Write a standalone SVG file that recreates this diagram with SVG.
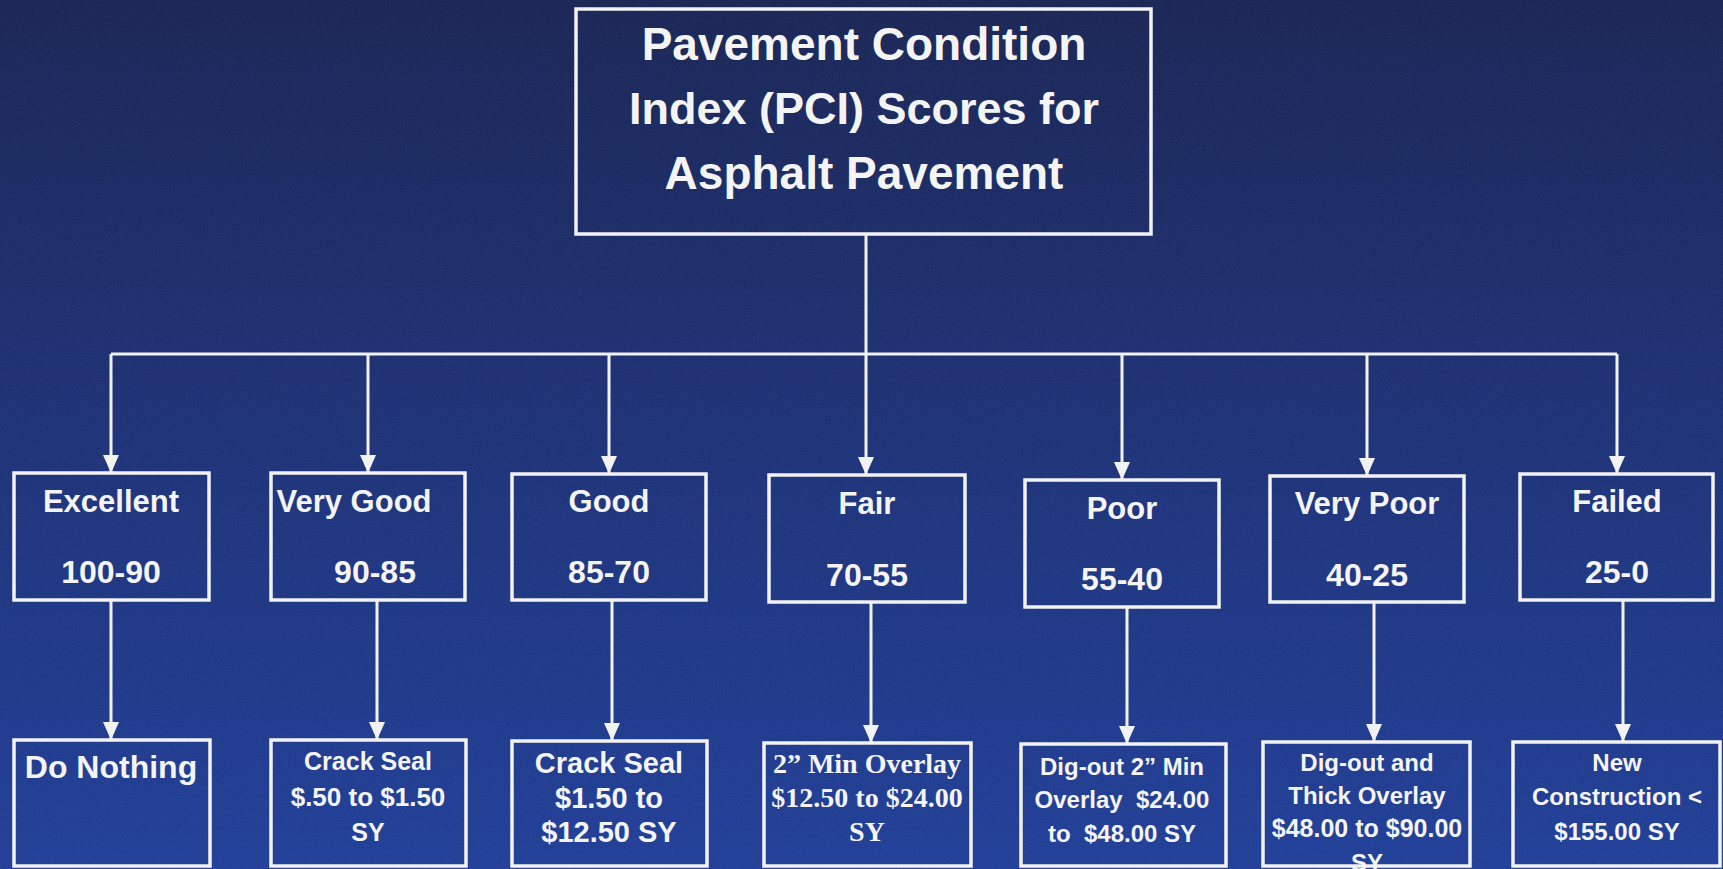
<svg xmlns="http://www.w3.org/2000/svg" width="1723" height="869" viewBox="0 0 1723 869">
<defs>
<linearGradient id="bg" x1="0" y1="0" x2="0" y2="1">
<stop offset="0" stop-color="#1a2553"/>
<stop offset="0.45" stop-color="#1d3073"/>
<stop offset="1" stop-color="#213f98"/>
</linearGradient>
<filter id="noise" x="0" y="0" width="100%" height="100%">
<feTurbulence type="fractalNoise" baseFrequency="0.9" numOctaves="2" seed="3"/>
<feColorMatrix type="matrix" values="0 0 0 0 0.2  0 0 0 0 0.3  0 0 0 0 0.6  0 0 0 0.35 -0.1"/>
</filter>
<marker id="arr" markerUnits="userSpaceOnUse" markerWidth="18" markerHeight="16" viewBox="0 0 18 16" refX="18" refY="8" orient="auto">
<path d="M0,0 L18,8 L0,16 Z" fill="#f2f2f2"/>
</marker>
<style>
.box{fill:none;stroke:#f2f2f2;stroke-width:3.5}
.t{fill:#f4f4f4;font-family:"Liberation Sans",Arial,sans-serif;font-weight:bold;text-anchor:middle}
.ser{fill:#f4f4f4;font-family:"Liberation Serif","Times New Roman",serif;font-weight:bold;text-anchor:middle}
.ln{fill:none;stroke:#f2f2f2;stroke-width:3}
.dn{fill:none;stroke:#f2f2f2;stroke-width:3;marker-end:url(#arr)}
</style>
</defs>
<rect x="0" y="0" width="1723" height="869" fill="url(#bg)"/>
<rect x="0" y="0" width="1723" height="869" filter="url(#noise)" opacity="0.5"/>

<g id="connectors">
<path class="ln" d="M866,234 V354"/>
<path class="ln" d="M111,354 H1617"/>
<path class="dn" d="M111,354 V473"/>
<path class="dn" d="M368,354 V473"/>
<path class="dn" d="M609,354 V474"/>
<path class="dn" d="M866,354 V475"/>
<path class="dn" d="M1122,354 V480"/>
<path class="dn" d="M1367,354 V476"/>
<path class="dn" d="M1617,354 V474"/>
<path class="dn" d="M111,600 V740"/>
<path class="dn" d="M377,600 V740"/>
<path class="dn" d="M612,600 V741"/>
<path class="dn" d="M871,602 V743"/>
<path class="dn" d="M1127,607 V744"/>
<path class="dn" d="M1374,602 V742"/>
<path class="dn" d="M1623,600 V742"/>
</g>

<g id="title">
<rect class="box" x="576" y="9" width="575" height="225"/>
<text class="t" font-size="46" x="864" y="60">Pavement Condition</text>
<text class="t" font-size="45" x="864" y="124">Index (PCI) Scores for</text>
<text class="t" font-size="46" x="864" y="189">Asphalt Pavement</text>
</g>

<g id="excellent">
<rect class="box" x="14" y="473" width="195" height="127"/>
<text class="t" font-size="31" x="111" y="512">Excellent</text>
<text class="t" font-size="32" x="111" y="583">100-90</text>
</g>
<g id="very-good">
<rect class="box" x="271" y="473" width="194" height="127"/>
<text class="t" font-size="31" x="354" y="512">Very Good</text>
<text class="t" font-size="32" x="375" y="583">90-85</text>
</g>
<g id="good">
<rect class="box" x="512" y="474" width="194" height="126"/>
<text class="t" font-size="31" x="609" y="512">Good</text>
<text class="t" font-size="32" x="609" y="583">85-70</text>
</g>
<g id="fair">
<rect class="box" x="769" y="475" width="196" height="127"/>
<text class="t" font-size="31" x="867" y="514">Fair</text>
<text class="t" font-size="32" x="867" y="586">70-55</text>
</g>
<g id="poor">
<rect class="box" x="1025" y="480" width="194" height="127"/>
<text class="t" font-size="31" x="1122" y="519">Poor</text>
<text class="t" font-size="32" x="1122" y="590">55-40</text>
</g>
<g id="very-poor">
<rect class="box" x="1270" y="476" width="194" height="126"/>
<text class="t" font-size="31" x="1367" y="514">Very Poor</text>
<text class="t" font-size="32" x="1367" y="586">40-25</text>
</g>
<g id="failed">
<rect class="box" x="1520" y="474" width="193" height="126"/>
<text class="t" font-size="31" x="1617" y="512">Failed</text>
<text class="t" font-size="32" x="1617" y="583">25-0</text>
</g>

<g id="do-nothing">
<rect class="box" x="14" y="740" width="196" height="126"/>
<text class="t" font-size="32" x="111" y="778">Do Nothing</text>
</g>
<g id="crack-seal-1">
<rect class="box" x="271" y="740" width="195" height="126"/>
<text class="t" font-size="25" x="368" y="770">Crack Seal</text>
<text class="t" font-size="26" x="368" y="806">$.50 to $1.50</text>
<text class="t" font-size="25" x="368" y="841">SY</text>
</g>
<g id="crack-seal-2">
<rect class="box" x="512" y="741" width="195" height="125"/>
<text class="t" font-size="29" x="609" y="773">Crack Seal</text>
<text class="t" font-size="29" x="609" y="808">$1.50 to</text>
<text class="t" font-size="29" x="609" y="842">$12.50 SY</text>
</g>
<g id="overlay">
<rect class="box" x="764" y="743" width="207" height="123"/>
<text class="ser" font-size="28" x="867" y="773">2” Min Overlay</text>
<text class="ser" font-size="28" x="867" y="807">$12.50 to $24.00</text>
<text class="ser" font-size="28" x="867" y="841">SY</text>
</g>
<g id="dig-out-min">
<rect class="box" x="1021" y="744" width="205" height="122"/>
<text class="t" font-size="24" x="1122" y="775">Dig-out 2” Min</text>
<text class="t" font-size="24" x="1122" y="808">Overlay&#160; $24.00</text>
<text class="t" font-size="24" x="1122" y="842">to&#160; $48.00 SY</text>
</g>
<g id="dig-out-thick">
<rect class="box" x="1263" y="742" width="207" height="124"/>
<text class="t" font-size="24" x="1367" y="771">Dig-out and</text>
<text class="t" font-size="24" x="1367" y="804">Thick Overlay</text>
<text class="t" font-size="25" x="1367" y="837">$48.00 to $90.00</text>
<text class="t" font-size="24" x="1367" y="871">SY</text>
</g>
<g id="new-construction">
<rect class="box" x="1513" y="742" width="207" height="124"/>
<text class="t" font-size="24" x="1617" y="771">New</text>
<text class="t" font-size="24" x="1617" y="805">Construction &lt;</text>
<text class="t" font-size="24" x="1617" y="840">$155.00 SY</text>
</g>
</svg>
